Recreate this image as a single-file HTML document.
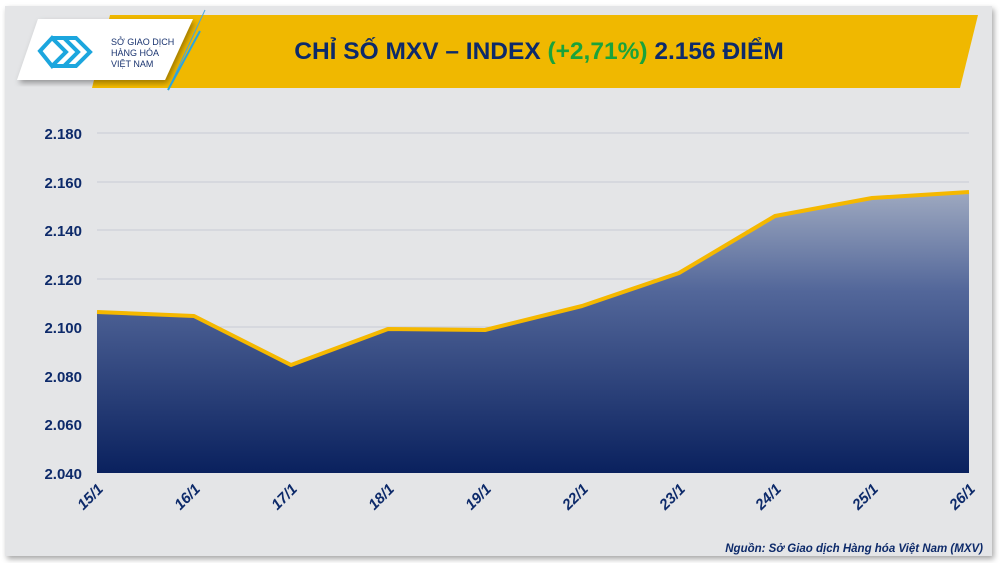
<!DOCTYPE html>
<html><head><meta charset="utf-8"><style>
body{margin:0;width:1000px;height:563px;background:#fff;overflow:hidden;font-family:"Liberation Sans",sans-serif}
</style></head><body>
<svg width="1000" height="563" viewBox="0 0 1000 563" xmlns="http://www.w3.org/2000/svg">
<defs>
<linearGradient id="g" x1="0" y1="0" x2="0" y2="1">
<stop offset="0" stop-color="#9ea9c0"/><stop offset="0.35" stop-color="#53679a"/><stop offset="1" stop-color="#0a215e"/>
</linearGradient>
<filter id="sh"><feDropShadow dx="2" dy="3" stdDeviation="3" flood-opacity="0.35"/></filter>
</defs>
<rect x="5" y="6" width="987" height="550" fill="#e4e5e7" filter="url(#sh)"/>
<polygon points="110,15 978,15 960,88 92,88" fill="#f0b800"/>
<line x1="205" y1="10" x2="168" y2="90" stroke="#4aa8e0" stroke-width="1"/>
<line x1="200" y1="31" x2="168" y2="90" stroke="#2ba6e0" stroke-width="2"/>
<polygon points="38,19 193,19 165,80 17,80" fill="#fff" filter="url(#sh)"/>
<g fill="none" stroke="#1ca6de" stroke-width="4">
<path d="M40,51 l12,-13 l14,14 l-14,14 z"/><path d="M52,38 l12,0 l14,14 l-14,14 l-12,0"/>
<path d="M64,38 l12,0 l14,14 l-14,14 l-12,0"/>
</g>
<text x="111" y="45" font-size="9" fill="#1a3470">SỞ GIAO DỊCH</text>
<text x="111" y="56" font-size="9" fill="#1a3470">HÀNG HÓA</text>
<text x="111" y="67" font-size="9" fill="#1a3470">VIỆT NAM</text>
<text x="539" y="59" font-size="24.5" font-weight="bold" fill="#0d2a6a" text-anchor="middle">CHỈ SỐ MXV – INDEX <tspan fill="#1aa33b">(+2,71%)</tspan> 2.156 ĐIỂM</text>
<g stroke="#c7cbd6" stroke-width="1">
<line x1="97" y1="133" x2="969" y2="133"/><line x1="97" y1="182" x2="969" y2="182"/>
<line x1="97" y1="230" x2="969" y2="230"/><line x1="97" y1="279" x2="969" y2="279"/>
<line x1="97" y1="327" x2="969" y2="327"/><line x1="97" y1="376" x2="969" y2="376"/>
<line x1="97" y1="424" x2="969" y2="424"/>
</g>
<g font-size="15" font-weight="bold" fill="#0d2a6a" text-anchor="end">
<text x="82" y="139">2.180</text><text x="82" y="188">2.160</text><text x="82" y="236">2.140</text>
<text x="82" y="285">2.120</text><text x="82" y="333">2.100</text><text x="82" y="382">2.080</text>
<text x="82" y="430">2.060</text><text x="82" y="479">2.040</text>
</g>
<polygon points="97,312 194,316 291,365 388,329 485,330 582,306 679,273 775,216 872,198 969,192 969,473 97,473" fill="url(#g)"/>
<polyline points="97,312 194,316 291,365 388,329 485,330 582,306 679,273 775,216 872,198 969,192" fill="none" stroke="#f5b800" stroke-width="4" stroke-linejoin="round"/>
<g font-size="15" font-weight="bold" font-style="italic" fill="#0d2a6a" text-anchor="end">
<text transform="translate(104,490) rotate(-45)">15/1</text>
<text transform="translate(201,490) rotate(-45)">16/1</text>
<text transform="translate(298,490) rotate(-45)">17/1</text>
<text transform="translate(395,490) rotate(-45)">18/1</text>
<text transform="translate(492,490) rotate(-45)">19/1</text>
<text transform="translate(589,490) rotate(-45)">22/1</text>
<text transform="translate(686,490) rotate(-45)">23/1</text>
<text transform="translate(782,490) rotate(-45)">24/1</text>
<text transform="translate(879,490) rotate(-45)">25/1</text>
<text transform="translate(976,490) rotate(-45)">26/1</text>
</g>
<text x="983" y="552" font-size="11.5" font-weight="bold" font-style="italic" fill="#0d2a6a" text-anchor="end">Nguồn: Sở Giao dịch Hàng hóa Việt Nam (MXV)</text>
</svg>
</body></html>
